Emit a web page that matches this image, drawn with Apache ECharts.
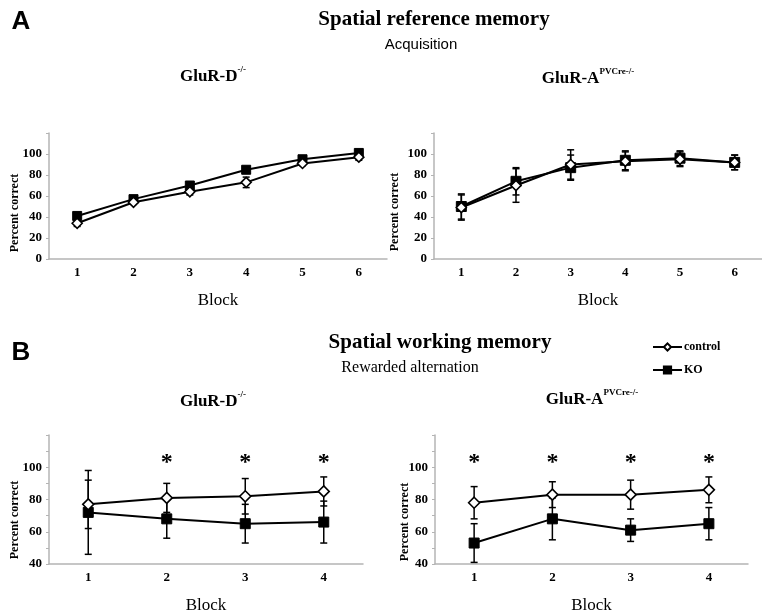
<!DOCTYPE html>
<html><head><meta charset="utf-8">
<script src="https://cdn.jsdelivr.net/npm/echarts@6/dist/echarts.min.js"></script>
<style>html,body{margin:0;padding:0;background:#fff}#c{width:762px;height:615px}</style>
</head><body><div id="c"></div>
<script>
// ---------- data ----------
const blocksA = ['1','2','3','4','5','6'];
const blocksB = ['1','2','3','4'];
// A: Spatial reference memory (acquisition)
const ctrlA_D = [34, 54, 64, 73, 91, 97];
const ctrlA_D_err = [3, 2, 3, 5, 2, 3];
const koA_D = [41, 57, 70, 85, 95, 101];
const koA_D_err = [2, 2, 2, 3, 2, 2];
const ctrlA_A = [49, 70, 90, 93, 95, 92];
const ctrlA_A_err = [12, 16, 14, 9, 7, 7];
const koA_A = [50, 74, 87, 94, 96, 92];
const koA_A_err = [12, 13, 12, 9, 7, 7];
// B: Spatial working memory (rewarded alternation)
const ctrlB_D = [77, 81, 82, 85];
const ctrlB_D_err = [15, 9, 11, 9];
const koB_D = [72, 68, 65, 66];
const koB_D_err = [26, 12, 12, 13];
const ctrlB_A = [78, 83, 83, 86];
const ctrlB_A_err = [10, 8, 9, 8];
const koB_A = [53, 68, 61, 65];
const koB_A_err = [12, 13, 7, 10];
// significance markers (1 = asterisk)
const sigB_D = [0, 1, 1, 1];
const sigB_A = [1, 1, 1, 1];
const yTicksA = [0, 20, 40, 60, 80, 100];
const yTicksB = [40, 60, 80, 100];

// ---------- styling ----------
const SERIF = '"Liberation Serif","DejaVu Serif",serif';
const SANS = '"Liberation Sans",Arial,sans-serif';
const AXIS_GRAY = '#b4b4b4';
const STAR_Y = 105;

const grids = [
  {left: 49, top: 133, width: 338, height: 126},
  {left: 434, top: 133, width: 339, height: 126},
  {left: 49, top: 435, width: 314, height: 138},
  {left: 435, top: 435, width: 313, height: 138}
];

function xAxisFor(i, cats) {
  return {
    type: 'category', gridIndex: i, data: cats, boundaryGap: true,
    axisLine: {lineStyle: {color: AXIS_GRAY, width: 1.5}},
    axisTick: {show: false},
    axisLabel: {color: '#000', fontFamily: SERIF, fontWeight: 'bold', fontSize: 13, margin: 7},
    name: 'Block', nameLocation: 'middle', nameGap: 33,
    nameTextStyle: {color: '#000', fontFamily: SERIF, fontSize: 17}
  };
}
function yAxisFor(i, min, interval, ticks) {
  return {
    type: 'value', gridIndex: i, min: min, max: 120, interval: interval,
    splitLine: {show: false},
    axisLine: {show: true, lineStyle: {color: AXIS_GRAY, width: 1.5}},
    axisTick: {show: true, length: 3, lineStyle: {color: AXIS_GRAY}},
    axisLabel: {color: '#000', fontFamily: SERIF, fontWeight: 'bold', fontSize: 13, margin: 7,
      formatter: v => ticks.indexOf(v) >= 0 ? String(v) : ''}
  };
}

function lineSeries(name, gi, vals, isCtrl, size) {
  return {
    type: 'line', name: name, xAxisIndex: gi, yAxisIndex: gi, data: vals,
    symbol: isCtrl ? 'diamond' : 'rect', symbolSize: isCtrl ? size + 1 : size,
    lineStyle: {color: '#000', width: 2},
    itemStyle: {color: isCtrl ? '#fff' : '#000', borderColor: '#000', borderWidth: isCtrl ? 1.6 : 1},
    z: isCtrl ? 4 : 3, animation: false
  };
}
function errSeries(name, gi, vals, errs) {
  return {
    type: 'custom', name: name + ' error', xAxisIndex: gi, yAxisIndex: gi,
    data: vals.map((v, i) => [i, v - errs[i], v + errs[i]]),
    encode: {x: 0, y: [1, 2]},
    z: 2, animation: false, silent: true,
    renderItem: function (params, api) {
      const x = api.value(0);
      const lo = api.coord([x, api.value(1)]);
      const hi = api.coord([x, api.value(2)]);
      const w = 3.5;
      const st = {stroke: '#000', lineWidth: 1.5};
      return {type: 'group', children: [
        {type: 'line', shape: {x1: lo[0], y1: lo[1], x2: hi[0], y2: hi[1]}, style: st},
        {type: 'line', shape: {x1: lo[0] - w, y1: lo[1], x2: lo[0] + w, y2: lo[1]}, style: st},
        {type: 'line', shape: {x1: hi[0] - w, y1: hi[1], x2: hi[0] + w, y2: hi[1]}, style: st}
      ]};
    }
  };
}
function starSeries(gi, sig) {
  return {
    type: 'custom', name: 'significance', xAxisIndex: gi, yAxisIndex: gi, silent: true, animation: false,
    data: sig.map((s, i) => [i, STAR_Y, s]).filter(d => d[2]),
    encode: {x: 0, y: 1},
    renderItem: function (params, api) {
      const p = api.coord([api.value(0), api.value(1)]);
      return {type: 'text', x: p[0], y: p[1] + 4, style: {text: '*', fill: '#000',
        font: 'bold 24px ' + SERIF, textAlign: 'center', textVerticalAlign: 'middle'}};
    }
  };
}

function gtext(x, y, text, font, extra) {
  return Object.assign({type: 'text', x: x, y: y, style: {text: text, font: font, fill: '#000',
    textAlign: 'center', textVerticalAlign: 'middle'}}, extra || {});
}
function richTitle(x, y, main, sup) {
  return {type: 'text', x: x, y: y, style: {
    text: '{m|' + main + '}{s|' + sup + '}', textAlign: 'center', textVerticalAlign: 'middle',
    rich: {
      m: {fontFamily: SERIF, fontWeight: 'bold', fontSize: 17, fill: '#000', lineHeight: 20, verticalAlign: 'bottom'},
      s: {fontFamily: SERIF, fontWeight: 'bold', fontSize: 9, fill: '#000', verticalAlign: 'top', lineHeight: 18}
    }}};
}
function ylab(x, y) {
  return gtext(x, y, 'Percent correct', 'bold 12px ' + SERIF, {rotation: Math.PI / 2});
}

const series = [
  lineSeries('KO', 0, koA_D, false, 9), lineSeries('control', 0, ctrlA_D, true, 9),
  errSeries('control', 0, ctrlA_D, ctrlA_D_err), errSeries('KO', 0, koA_D, koA_D_err),
  lineSeries('control', 1, ctrlA_A, true, 9), lineSeries('KO', 1, koA_A, false, 10),
  errSeries('control', 1, ctrlA_A, ctrlA_A_err), errSeries('KO', 1, koA_A, koA_A_err),
  lineSeries('control', 2, ctrlB_D, true, 10), lineSeries('KO', 2, koB_D, false, 10),
  errSeries('control', 2, ctrlB_D, ctrlB_D_err), errSeries('KO', 2, koB_D, koB_D_err),
  lineSeries('control', 3, ctrlB_A, true, 10), lineSeries('KO', 3, koB_A, false, 10),
  errSeries('control', 3, ctrlB_A, ctrlB_A_err), errSeries('KO', 3, koB_A, koB_A_err),
  starSeries(2, sigB_D), starSeries(3, sigB_A)
];

const option = {
  backgroundColor: '#fff',
  animation: false,
  grid: grids,
  xAxis: [xAxisFor(0, blocksA), xAxisFor(1, blocksA), xAxisFor(2, blocksB), xAxisFor(3, blocksB)],
  yAxis: [yAxisFor(0, 0, 20, yTicksA), yAxisFor(1, 0, 20, yTicksA), yAxisFor(2, 40, 10, yTicksB), yAxisFor(3, 40, 10, yTicksB)],
  legend: {
    data: ['control', 'KO'],
    orient: 'vertical', left: 647, top: 336,
    itemWidth: 29, itemHeight: 9, itemGap: 11, selectedMode: false,
    textStyle: {fontFamily: SERIF, fontWeight: 'bold', fontSize: 12, color: '#000', padding: [0, 0, 0, -3]}
  },
  graphic: [
    gtext(21, 22, 'A', 'bold 26px ' + SANS),
    gtext(21, 353, 'B', 'bold 26px ' + SANS),
    gtext(434, 20, 'Spatial reference memory', 'bold 21px ' + SERIF),
    gtext(421, 45, 'Acquisition', '15px ' + SANS),
    gtext(440, 343, 'Spatial working memory', 'bold 21px ' + SERIF),
    gtext(410, 368, 'Rewarded alternation', '16px ' + SERIF),
    richTitle(213, 75, 'GluR-D', '-/-'),
    richTitle(588, 77, 'GluR-A', 'PVCre-/-'),
    richTitle(213, 400, 'GluR-D', '-/-'),
    richTitle(592, 398, 'GluR-A', 'PVCre-/-'),
    ylab(15, 213), ylab(395, 212), ylab(15, 520), ylab(405, 522)
  ],
  series: series
};
const chart = echarts.init(document.getElementById('c'), null, {renderer: 'canvas'});
chart.setOption(option);
</script></body></html>
